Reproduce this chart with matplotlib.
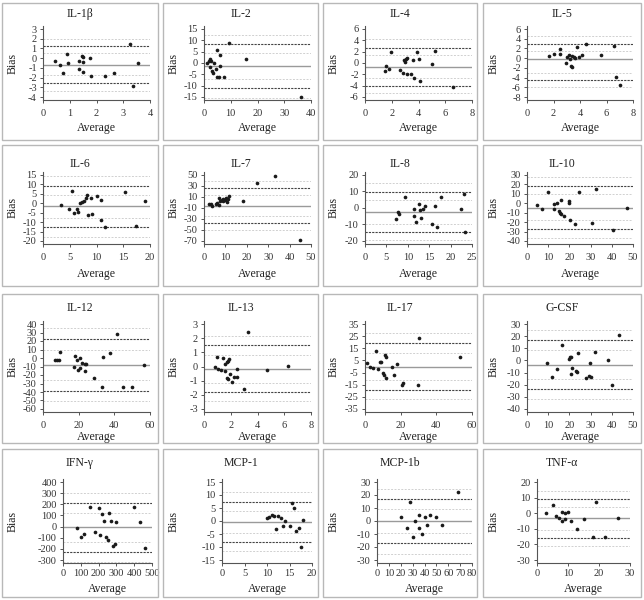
import matplotlib
matplotlib.use("Agg")
import matplotlib.pyplot as plt
from matplotlib.patches import Rectangle
import numpy as np

plt.rcParams['font.family'] = ['Liberation Serif', 'DejaVu Serif']
plt.rcParams['axes.unicode_minus'] = False

# ---- data (average, bias) ----
names = ["IL-1β", "IL-2", "IL-4", "IL-5",
         "IL-6", "IL-7", "IL-8", "IL-10",
         "IL-12", "IL-13", "IL-17", "G-CSF",
         "IFN-γ", "MCP-1", "MCP-1b", "TNF-α"]

il1b_avg = [0.46, 0.62, 0.76, 0.89, 0.92, 1.35, 1.34, 1.45, 1.48, 1.50, 1.51, 1.76, 1.81, 2.31, 2.65, 3.24, 3.36, 3.57]
il1b_bias = [-0.26, -0.75, -1.5, 0.42, -0.47, -0.3, -1.16, 0.22, -1.4, -0.4, 0.08, 0.01, -1.85, -1.88, -1.54, 1.42, -2.84, -0.47]

il2_avg = [1.0, 1.9, 2.26, 2.77, 2.26, 3.0, 3.4, 3.9, 4.3, 4.8, 5.5, 5.8, 5.8, 4.8, 7.4, 9.2, 15.8, 36.2]
il2_bias = [-0.16, 1.07, 1.98, 0.76, -1.7, -3.7, -4.3, 0.15, -2.5, -6.0, -6.3, -1.2, 3.5, 5.7, -6.3, 8.9, 1.8, -14.9]

il4_avg = [1.53, 1.6, 1.8, 1.96, 2.62, 2.87, 2.92, 3.02, 3.07, 3.12, 3.17, 3.47, 3.56, 3.64, 3.89, 4.06, 4.08, 5.02, 5.2, 6.58]
il4_bias = [-1.43, -0.54, -1.13, 1.9, -1.25, -1.72, 0.47, 0.12, 0.71, 0.89, -1.9, -1.96, 0.47, -2.6, 2.02, 0.65, -3.15, -0.12, 2.08, -4.22]

il5_avg = [1.65, 2.07, 2.47, 2.47, 2.96, 3.01, 3.19, 3.26, 3.31, 3.38, 3.43, 3.56, 3.65, 3.8, 3.9, 4.17, 4.49, 5.58, 6.54, 6.69, 6.99]
il5_bias = [0.5, 0.85, 1.82, 0.92, -1.03, 0.22, 0.71, -0.13, -1.59, -1.87, 0.5, 0.29, 0.08, 2.38, 0.22, 0.57, 3.0, 0.71, 2.45, -3.96, -5.63]

il6_avg = [3.44, 4.81, 5.5, 5.88, 6.44, 6.63, 7.0, 7.38, 7.7, 8.13, 8.25, 8.38, 9.0, 9.2, 10.0, 10.75, 10.8, 11.6, 15.4, 17.3, 19.0]
il6_bias = [-0.94, -2.86, 6.4, -5.3, -2.86, -4.8, 0.3, 0.8, 1.34, 2.57, 4.3, -6.2, 2.57, -5.5, 3.97, -9.0, 1.9, -12.7, 6.07, -12.0, 1.0]

il7_avg = [2.5, 3.1, 3.9, 5.5, 6.3, 6.9, 7.1, 7.5, 8.2, 8.8, 9.1, 9.6, 10.2, 10.7, 11.2, 11.8, 18.2, 24.8, 33.2, 45.0]
il7_bias = [-2.5, -3.1, -6.25, -1.9, -1.25, 7.5, -4.4, 2.5, 5.0, 1.9, 6.9, 5.0, 7.5, 1.25, 5.6, 12.5, 3.1, 35.0, 48.0, -67.5]

il8_avg = [7.2, 7.6, 8.0, 9.25, 11.5, 11.5, 12.0, 12.7, 12.9, 13.1, 13.5, 13.95, 16.4, 15.7, 16.85, 17.8, 22.5, 23.2, 23.4]
il8_bias = [-6.7, -2.4, -3.4, 6.7, -0.7, -4.6, -8.3, 2.4, -1.1, -6.3, -0.6, 1.1, 1.5, -10.0, -11.4, 6.7, -0.9, 8.7, -14.7]

il10_avg = [4.6, 7.0, 9.8, 12.5, 12.7, 14.0, 14.9, 15.4, 15.9, 16.0, 17.6, 19.7, 19.8, 20.5, 22.5, 24.6, 30.5, 32.5, 40.6, 47.1]
il10_bias = [-1.9, -5.9, 11.5, -0.8, -5.9, 0.3, -8.4, -9.9, -11.3, 3.5, -13.9, 2.1, 0.3, -17.9, -21.5, 12.2, -20.8, 15.5, -28.5, -4.5]

il12_avg = [6.5, 7.8, 8.75, 9.7, 17.3, 18.2, 19.0, 19.4, 20.5, 20.5, 22.0, 23.3, 23.65, 24.0, 28.5, 33.1, 33.9, 37.6, 41.3, 45.1, 49.9, 56.6]
il12_bias = [-2.7, -2.7, -2.7, 7.3, -10.8, 1.9, -2.3, -13.8, -0.4, -12.3, -6.2, -6.9, -15.0, -6.9, -23.5, -34.2, 1.2, 6.2, 27.7, -34.2, -34.6, -7.7]

il13_avg = [0.8, 0.97, 1.07, 1.24, 1.42, 1.54, 1.59, 1.69, 1.71, 1.79, 1.79, 1.84, 1.94, 2.06, 2.24, 2.43, 2.5, 2.96, 3.28, 4.72, 6.26]
il13_bias = [0.0, 0.7, -0.17, -0.22, 0.58, -0.31, 0.19, 0.31, -0.84, 0.38, -0.86, 0.5, -0.5, -1.08, -0.74, -0.19, -0.77, -1.58, 2.45, -0.26, 0.02]

il17_avg = [0.94, 2.8, 4.3, 6.2, 7.1, 8.3, 9.2, 10.3, 10.5, 11.1, 11.6, 11.8, 15.0, 16.3, 18.2, 20.8, 21.2, 29.5, 30.4, 53.5]
il17_bias = [2.8, -0.3, -1.1, 12.7, -1.7, 3.5, 3.9, -5.0, -6.9, 9.4, 7.7, -9.1, -0.8, -7.4, 1.7, -14.9, -13.8, -15.4, 23.4, 8.0]

gcsf_avg = [9.3, 11.7, 14.2, 16.3, 19.8, 20.3, 20.6, 20.6, 21.0, 23.1, 23.6, 24.1, 27.7, 29.4, 30.1, 29.9, 32.1, 38.3, 40.2, 43.2]
gcsf_bias = [-1.8, -13.4, -6.7, 13.1, 1.4, 2.6, 3.2, -10.8, -6.2, -8.8, -9.9, 6.4, -14.6, -13.1, -14.0, -2.1, 6.7, 0.55, -19.9, 21.3]

ifng_avg = [80, 100, 120, 150, 180, 200, 210, 220, 230, 240, 250, 260, 270, 280, 290, 300, 400, 430, 460]
ifng_bias = [-10, -90, -70, 180, -50, 170, -80, 110, 50, -90, -120, 120, 50, -170, -160, 40, 180, 40, -190]

mcp1_avg = [10.0, 10.5, 11.0, 11.5, 12.0, 12.5, 13.0, 13.5, 14.0, 15.0, 15.5, 16.0, 16.5, 17.0, 17.5, 18.0]
mcp1_bias = [1.0, 1.5, 2.5, 2.0, -3.0, 2.0, 1.0, -2.0, 0.0, -2.0, 7.0, 5.0, -4.0, -2.5, -10.0, 0.5]

mcp1b_avg = [20, 25, 28, 30, 32, 35, 35, 38, 40, 42, 45, 50, 55, 68]
mcp1b_bias = [3, -5, 15, -12, 0, -5, 5, -10, 3, -3, 5, 3, -3, 22]

tnfa_avg = [3, 5, 6, 7, 8, 8, 9, 9, 10, 11, 13, 15, 18, 19, 22, 26]
tnfa_bias = [0, 5, -2, -3, 1, -5, 0, -4, 1, -5, -10, -4, -15, 7, -15, -3]

avgs = [il1b_avg, il2_avg, il4_avg, il5_avg, il6_avg, il7_avg, il8_avg, il10_avg,
        il12_avg, il13_avg, il17_avg, gcsf_avg, ifng_avg, mcp1_avg, mcp1b_avg, tnfa_avg]
biases = [il1b_bias, il2_bias, il4_bias, il5_bias, il6_bias, il7_bias, il8_bias, il10_bias,
          il12_bias, il13_bias, il17_bias, gcsf_bias, ifng_bias, mcp1_bias, mcp1b_bias, tnfa_bias]

# mean bias, upper and lower limits of agreement, and their confidence bounds
means = [-0.75, -1.2, -0.65, -0.27, -1.7, -6.25, -2.2, -4.5, -8.1, -0.17, 0.0, -3.5, -5, -0.3, 0, -3]
upper = [1.21, 8.4, 2.73, 3.0, 9.4, 26.3, 9.95, 18.8, 22.3, 1.54, 19.3, 16.6, 210, 7.5, 17, 9]
lower = [-2.57, -11.2, -4.04, -4.5, -12.8, -37.5, -14.7, -27.5, -38.5, -1.8, -19.3, -23.6, -225, -8, -17, -16]
ci_bounds = [[1.97, 0.49, -1.78, -3.36], [12.5, 4.6, -7.0, -15.5], [4.16, 1.37, -2.6, -5.35],
             [4.5, 1.4, -3.0, -5.9], [14.3, 4.5, -8.0, -17.7], [39.4, 13, -24, -50],
             [14.9, 5.0, -9.7, -19.6], [28, 9.5, -18, -37], [35, 9.2, -26, -51],
             [2.18, 0.84, -1.13, -2.47], [27.3, 11, -11.3, -27], [25.3, 8.4, -15.5, -31.8],
             [300, 120, -135, -315], [11, 4, -4.5, -11.5], [25, 9, -9, -25], [14, 4, -11, -21]]

yticks = [(-4, 3, 1), (-15, 15, 5), (-6, 6, 2), (-8, 6, 2),
          (-20, 15, 5), (-70, 50, 20), (-20, 20, 10), (-40, 30, 10),
          (-60, 40, 10), (-3, 3, 1), (-35, 35, 10), (-40, 30, 10),
          (-300, 400, 100), (-15, 15, 5), (-30, 30, 10), (-30, 20, 10)]
xticks = [(0, 4, 1), (0, 40, 10), (0, 8, 2), (0, 8, 2),
          (0, 20, 5), (0, 50, 10), (0, 25, 5), (0, 50, 10),
          (0, 60, 20), (0, 8, 2), (0, 60, 20), (0, 50, 10),
          (0, 500, 100), (0, 20, 5), (0, 80, 10), (0, 30, 10)]

# ---- layout in pixels ----
W, H = 644, 600
fig = plt.figure(figsize=(W / 100, H / 100), dpi=100)

cell_x = [(2, 158), (163, 318), (323, 477), (483, 641)]
cell_y = [(3, 140), (145, 286), (294, 443), (449, 597)]
title_y = [14, 164, 308, 463]
tick_top = [29, 175, 324, 482]
tick_bot = [97, 241, 409, 560]
xlab_y = [128, 274, 437, 589]
xpad = [4, 4, 4, 1.5]
ax_x = [[(43, 150), (204, 311), (365, 472), (527, 633)]] * 3 + \
       [[(63, 152), (222, 312), (377, 472), (537, 630)]]

edge = "#b8b8b8"
for i in range(16):
    r, c = divmod(i, 4)
    x0, x1 = cell_x[c]
    y0, y1 = cell_y[r]
    fig.add_artist(Rectangle((x0 / W, 1 - y1 / H), (x1 - x0) / W, (y1 - y0) / H,
                             transform=fig.transFigure, fill=False, ec=edge, lw=1.0))

    ylo, yhi, ystep = yticks[i]
    xlo, xhi, xstep = xticks[i]
    pad = 0.04
    span_px = tick_bot[r] - tick_top[r]
    top_px = tick_top[r] - pad * span_px
    bot_px = tick_bot[r] + pad * span_px
    ax_l, ax_r = ax_x[r][c]
    ax = fig.add_axes([ax_l / W, 1 - bot_px / H, (ax_r - ax_l) / W, (bot_px - top_px) / H])
    yspan = yhi - ylo
    ax.set_ylim(ylo - pad * yspan, yhi + pad * yspan)
    ax.set_xlim(xlo, xhi)

    for v in ci_bounds[i]:
        ax.axhline(v, color="#d0d0d0", lw=0.7, ls=(0, (2, 1.5)), zorder=1)
    ax.axhline(upper[i], color="#444444", lw=0.8, ls=(0, (2, 1)), zorder=2)
    ax.axhline(lower[i], color="#444444", lw=0.8, ls=(0, (2, 1)), zorder=2)
    ax.axhline(means[i], color="#9a9a9a", lw=1.0, zorder=2)
    ax.scatter(avgs[i], biases[i], s=7, color="#1a1a1a", zorder=3, linewidths=0)

    ax.set_yticks(np.arange(ylo, yhi + ystep / 2, ystep))
    ax.set_xticks(np.arange(xlo, xhi + xstep / 2, xstep))
    ax.spines["top"].set_visible(False)
    ax.spines["right"].set_visible(False)
    for s in ("left", "bottom"):
        ax.spines[s].set_color("#555555")
        ax.spines[s].set_linewidth(0.8)
    ax.tick_params(labelsize=7.5, length=2.5, width=0.7, color="#555555",
                   labelcolor="#333333", pad=2)
    ax.tick_params(axis="x", pad=xpad[r])
    ax.patch.set_alpha(0)

    fig.text((x0 + x1) / 2 / W, 1 - title_y[r] / H, names[i], ha="center", va="center",
             fontsize=8.5, color="#222222")
    fig.text((ax_l + ax_r) / 2 / W, 1 - xlab_y[r] / H, "Average", ha="center", va="center",
             fontsize=8.5, color="#222222")
    fig.text((x0 + 11) / W, 1 - (tick_top[r] + tick_bot[r]) / 2 / H, "Bias", rotation=90,
             ha="center", va="center", fontsize=8.5, color="#222222")

fig.savefig("out.png", dpi=100)
